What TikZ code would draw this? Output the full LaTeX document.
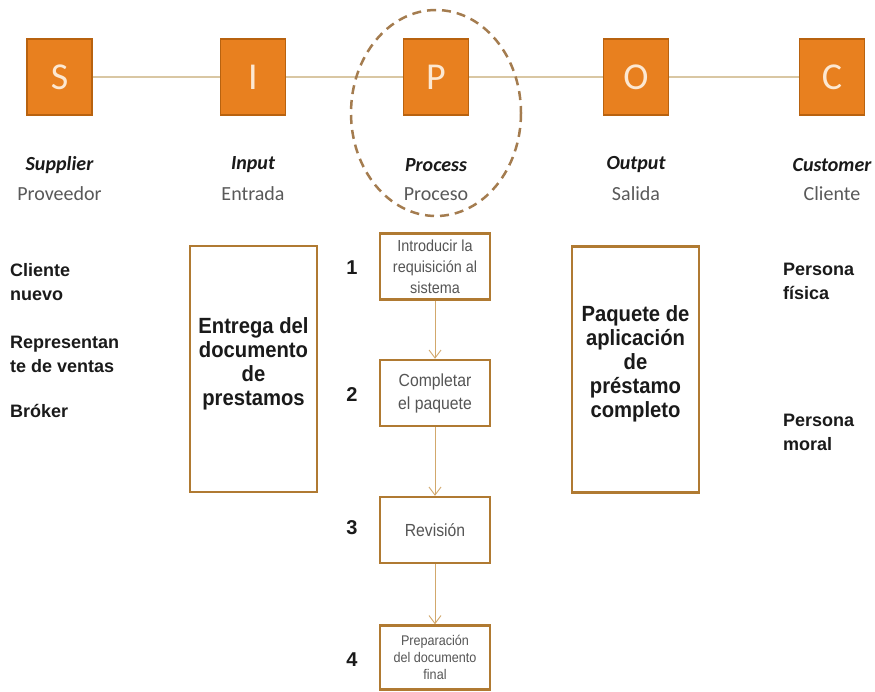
\documentclass[tikz,border=0pt]{standalone}
\usepackage{fontspec}
\setmainfont{Liberation Sans}
\newfontfamily\calibri{Carlito}
\newfontfamily\narrowsans[FakeStretch=0.9]{Liberation Sans}
\newfontfamily\boldnarrow[FakeStretch=0.92]{Liberation Sans Bold}
\usetikzlibrary{arrows.meta}

\definecolor{sipocorange}{HTML}{E8801F}
\definecolor{sipocedge}{HTML}{B8620F}
\definecolor{lettercream}{HTML}{FCE8D2}
\definecolor{linktan}{HTML}{D9C7A3}
\definecolor{ringbrown}{HTML}{A47C4F}
\definecolor{boxbrown}{HTML}{B07A32}
\definecolor{arrowtan}{HTML}{D2A86C}
\definecolor{softgray}{HTML}{595959}
\definecolor{stepgray}{HTML}{555555}
\definecolor{inkblack}{HTML}{1A1A1A}

\tikzset{
  letterbox/.style={draw=sipocedge, fill=sipocorange, line width=1.5pt,
    minimum width=65pt, minimum height=76pt, inner sep=0pt,
    font=\calibri\fontsize{38}{40}\selectfont, text=lettercream},
  headline/.style={font=\calibri\bfseries\itshape\fontsize{20}{24}\selectfont, text=inkblack},
  subline/.style={font=\calibri\fontsize{20}{24}\selectfont, text=softgray},
  linkline/.style={draw=linktan, line width=1.6pt},
  sidetext/.style={font=\bfseries\fontsize{18}{24}\selectfont, align=left,
    anchor=west, text=inkblack, inner sep=0pt},
  bigbox/.style={draw=boxbrown, line width=2.5pt, minimum width=127pt,
    minimum height=246pt, inner sep=0pt},
  bigtext/.style={font=\boldnarrow\fontsize{22}{24}\selectfont, align=center,
    text=inkblack, inner sep=0pt},
  stepbox/.style={draw=boxbrown, fill=white, line width=2.5pt,
    minimum width=110pt, minimum height=66pt, align=center,
    text=stepgray, inner sep=1pt},
  stepnum/.style={font=\bfseries\fontsize{20}{24}\selectfont, text=inkblack},
  flow/.style={draw=arrowtan, line width=0.9pt,
    -{Straight Barb[length=8pt,width=12pt]}},
  ring/.style={draw=ringbrown, line width=2.5pt, dash pattern=on 9pt off 6pt}
}

\begin{document}
\begin{tikzpicture}[x=1pt,y=-1pt]
\useasboundingbox (0,0) rectangle (875,691);
\fill[white] (0,0) rectangle (875,691);

% SIPOC letter squares
\node[letterbox] (S) at (59.5,77) {S};
\node[letterbox] (I) at (253,77) {I};
\node[letterbox] (P) at (436,77) {P};
\node[letterbox] (O) at (636,77) {O};
\node[letterbox] (C) at (832,77) {C};

% connecting line between the squares
\draw[linkline] (S) -- (I);
\draw[linkline] (I) -- (P);
\draw[linkline] (P) -- (O);
\draw[linkline] (O) -- (C);

% column headings
\node[headline] (hS) at (59.5,165) {Supplier};
\node[subline]  (sS) at (59.5,194) {Proveedor};
\node[headline] (hI) at (253,165) {Input};
\node[subline]  (sI) at (253,194) {Entrada};
\node[headline] (hP) at (436,165) {Process};
\node[subline]  (sP) at (436,194) {Proceso};
\node[headline] (hO) at (636,165) {Output};
\node[subline]  (sO) at (636,194) {Salida};
\node[headline] (hC) at (832,165) {Customer};
\node[subline]  (sC) at (832,194) {Cliente};

% dashed ring around the process column
\draw[ring] (436,113) ellipse [x radius=85, y radius=103];

% suppliers
\node[sidetext] (sup1) at (10,282) {Cliente\\nuevo};
\node[sidetext] (sup2) at (10,354) {Representan\\te de ventas};
\node[sidetext] (sup3) at (10,411) {Bróker};

% input box
\node[bigbox] (inbox) at (253.5,369) {};
\node[bigtext] (intext) at (253.5,364) {Entrega del\\documento\\de\\prestamos};

% process steps
\node[stepbox, font=\narrowsans\fontsize{16}{21}\selectfont] (st1) at (435,266.5)
  {Introducir la\\requisición al\\sistema};
\node[stepbox, font=\narrowsans\fontsize{17.5}{23}\selectfont] (st2) at (435,393)
  {Completar\\el paquete};
\node[stepbox, font=\narrowsans\fontsize{17.5}{23}\selectfont] (st3) at (435,530)
  {Revisión};
\node[stepbox, font=\narrowsans\fontsize{14}{17}\selectfont, minimum height=64pt] (st4) at (435,657.5)
  {Preparación\\del documento\\final};

\node[stepnum] (n1) at (352,268) {1};
\node[stepnum] (n2) at (352,395) {2};
\node[stepnum] (n3) at (352,528) {3};
\node[stepnum] (n4) at (352,660) {4};

\draw[flow] (st1) -- (st2);
\draw[flow] (st2) -- (st3);
\draw[flow] (st3) -- (st4);

% output box
\node[bigbox] (outbox) at (635.5,369.5) {};
\node[bigtext] (outtext) at (635.5,364) {Paquete de\\aplicación\\de\\préstamo\\completo};

% customers
\node[sidetext] (cus1) at (783,281) {Persona\\física};
\node[sidetext] (cus2) at (783,432) {Persona\\moral};
\end{tikzpicture}
\end{document}
